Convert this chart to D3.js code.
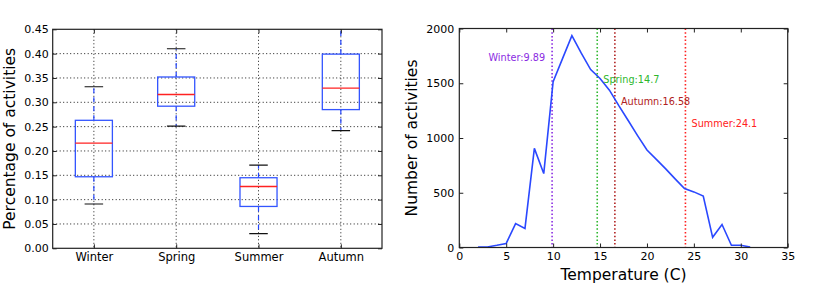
<!DOCTYPE html>
<html>
<head>
<meta charset="utf-8">
<script src="https://cdn.jsdelivr.net/npm/d3@7"></script>
<style>
  body { margin: 0; background: #fff; }
  svg { display: block; font-family: "DejaVu Sans", sans-serif; }
  .tick text { fill: #000; }
</style>
</head>
<body>
<svg width="831" height="284"></svg>
<script>
// box plot data
var seasons = ["Winter", "Spring", "Summer", "Autumn"];
var whiskLo = [0.091, 0.251, 0.030, 0.242];
var q1 = [0.147, 0.292, 0.086, 0.285];
var med = [0.216, 0.316, 0.127, 0.329];
var q3 = [0.263, 0.352, 0.145, 0.399];
var whiskHi = [0.332, 0.410, 0.171, 0.47];
var pctTicks = [0, 0.05, 0.10, 0.15, 0.20, 0.25, 0.30, 0.35, 0.40, 0.45];

// temperature curve
var temps = [2, 3, 4, 5, 6, 7, 8, 9, 10, 11, 12, 13, 14, 15, 16, 17, 18, 19, 20, 21, 22, 23, 24, 25, 26, 27, 28, 29, 30, 31];
var counts = [5, 5, 20, 37, 218, 174, 905, 675, 1514, 1725, 1935, 1775, 1625, 1543, 1437, 1295, 1160, 1022, 890, 805, 718, 627, 538, 508, 470, 93, 210, 20, 21, 5];
var tempTicks = [0, 5, 10, 15, 20, 25, 30, 35];
var countTicks = [0, 500, 1000, 1500, 2000];

// seasonal mean temperatures
var meanNames = ["Winter", "Spring", "Autumn", "Summer"];
var meanTemps = [9.89, 14.7, 16.58, 24.1];
var meanLabels = ["Winter:9.89", "Spring:14.7", "Autumn:16.58", "Summer:24.1"];
var meanTextY = [1700, 1500, 1300, 1100];
var meanColors = ["#8a2be2", "#2cb72c", "#b02020", "#ff2020"];

var FONT = "DejaVu Sans";
var svg = d3.select("svg");

function styleAxis(size) {
  return function(g) {
    g.attr("font-family", FONT);
    g.select(".domain").remove();
    g.selectAll("text").attr("font-size", size);
    g.selectAll("line").attr("stroke", "#222");
  };
}

// ---------- left: box plot ----------
var L = {x0: 52.7, x1: 382, y0: 29.3, y1: 248.3};

var xBox = d3.scaleLinear().domain([0.5, 4.5]).range([L.x0, L.x1]);
var yPct = d3.scaleLinear().domain([0, 0.45]).range([L.y1, L.y0]);

svg.append("clipPath").attr("id", "clipL")
  .append("rect").attr("x", L.x0).attr("y", L.y0)
  .attr("width", L.x1 - L.x0).attr("height", L.y1 - L.y0);

var gl = svg.append("g");

// grid
gl.selectAll(".hgrid").data(pctTicks.slice(1, -1)).enter().append("line")
  .attr("x1", L.x0).attr("x2", L.x1)
  .attr("y1", function(d) { return yPct(d); }).attr("y2", function(d) { return yPct(d); })
  .attr("stroke", "#000").attr("stroke-width", 0.9).attr("stroke-dasharray", "1,2.5");
gl.selectAll(".vgrid").data(seasons).enter().append("line")
  .attr("x1", function(d, i) { return xBox(i + 1); }).attr("x2", function(d, i) { return xBox(i + 1); })
  .attr("y1", L.y0).attr("y2", L.y1)
  .attr("stroke", "#000").attr("stroke-width", 0.9).attr("stroke-dasharray", "1,2.5");

var boxW = 0.45, capW = 0.225;
var boxes = gl.append("g").attr("clip-path", "url(#clipL)")
  .selectAll("g").data(seasons).enter().append("g");

// whiskers
boxes.append("line")
  .attr("x1", function(d, i) { return xBox(i + 1); }).attr("x2", function(d, i) { return xBox(i + 1); })
  .attr("y1", function(d, i) { return yPct(q3[i]); }).attr("y2", function(d, i) { return yPct(whiskHi[i]); })
  .attr("stroke", "#2244ff").attr("stroke-width", 1.2).attr("stroke-dasharray", "5,4");
boxes.append("line")
  .attr("x1", function(d, i) { return xBox(i + 1); }).attr("x2", function(d, i) { return xBox(i + 1); })
  .attr("y1", function(d, i) { return yPct(q1[i]); }).attr("y2", function(d, i) { return yPct(whiskLo[i]); })
  .attr("stroke", "#2244ff").attr("stroke-width", 1.2).attr("stroke-dasharray", "5,4");
// caps
[whiskLo, whiskHi].forEach(function(arr) {
  boxes.append("line")
    .attr("x1", function(d, i) { return xBox(i + 1 - capW / 2); })
    .attr("x2", function(d, i) { return xBox(i + 1 + capW / 2); })
    .attr("y1", function(d, i) { return yPct(arr[i]); }).attr("y2", function(d, i) { return yPct(arr[i]); })
    .attr("stroke", "#111").attr("stroke-width", 1.2);
});
// box
boxes.append("rect")
  .attr("x", function(d, i) { return xBox(i + 1 - boxW / 2); })
  .attr("width", xBox(1 + boxW) - xBox(1))
  .attr("y", function(d, i) { return yPct(q3[i]); })
  .attr("height", function(d, i) { return yPct(q1[i]) - yPct(q3[i]); })
  .attr("fill", "none").attr("stroke", "#3355ff").attr("stroke-width", 1.3);
// median
boxes.append("line")
  .attr("x1", function(d, i) { return xBox(i + 1 - boxW / 2); })
  .attr("x2", function(d, i) { return xBox(i + 1 + boxW / 2); })
  .attr("y1", function(d, i) { return yPct(med[i]); }).attr("y2", function(d, i) { return yPct(med[i]); })
  .attr("stroke", "#ff2222").attr("stroke-width", 1.3);

// axes
gl.append("g").attr("transform", "translate(" + L.x0 + ",0)")
  .call(d3.axisLeft(yPct).tickValues(pctTicks).tickFormat(d3.format(".2f")).tickSizeInner(-4).tickSizeOuter(0).tickPadding(4))
  .call(styleAxis(11));
gl.append("g").attr("transform", "translate(" + L.x1 + ",0)")
  .call(d3.axisRight(yPct).tickValues(pctTicks).tickFormat("").tickSizeInner(-4).tickSizeOuter(0))
  .call(styleAxis(11));
gl.append("g").attr("transform", "translate(0," + L.y1 + ")")
  .call(d3.axisBottom(xBox).tickValues([1, 2, 3, 4]).tickFormat(function(d) { return seasons[d - 1]; }).tickSizeInner(-4).tickSizeOuter(0).tickPadding(5))
  .call(styleAxis(11.5));
gl.append("g").attr("transform", "translate(0," + L.y0 + ")")
  .call(d3.axisTop(xBox).tickValues([1, 2, 3, 4]).tickFormat("").tickSizeInner(-4).tickSizeOuter(0))
  .call(styleAxis(11));

gl.append("rect").attr("x", L.x0).attr("y", L.y0)
  .attr("width", L.x1 - L.x0).attr("height", L.y1 - L.y0)
  .attr("fill", "none").attr("stroke", "#222").attr("stroke-width", 1.2);

gl.append("text")
  .attr("transform", "translate(15," + (L.y0 + L.y1) / 2 + ") rotate(-90)")
  .attr("text-anchor", "middle").attr("font-size", 15.5)
  .text("Percentage of activities");

// ---------- right: temperature curve ----------
var R = {x0: 459.3, x1: 787.7, y0: 28.5, y1: 247.5};

var xT = d3.scaleLinear().domain([0, 35]).range([R.x0, R.x1]);
var yC = d3.scaleLinear().domain([0, 2000]).range([R.y1, R.y0]);

var gr = svg.append("g");

gr.selectAll(".vline").data(meanTemps).enter().append("line")
  .attr("x1", function(d) { return xT(d); }).attr("x2", function(d) { return xT(d); })
  .attr("y1", R.y0).attr("y2", R.y1)
  .attr("stroke", function(d, i) { return meanColors[i]; })
  .attr("stroke-width", 1.6).attr("stroke-dasharray", "1.5,2.2");

var line = d3.line()
  .x(function(d, i) { return xT(temps[i]); })
  .y(function(d) { return yC(d); });
gr.append("path").datum(counts)
  .attr("d", line)
  .attr("fill", "none").attr("stroke", "#2a48ff").attr("stroke-width", 1.6);

gr.selectAll(".lbl").data(meanLabels).enter().append("text")
  .attr("x", function(d, i) { return i === 0 ? xT(meanTemps[i] - 0.75) : xT(meanTemps[i] + 0.65); })
  .attr("y", function(d, i) { return yC(meanTextY[i]); })
  .attr("text-anchor", function(d, i) { return i === 0 ? "end" : "start"; })
  .attr("fill", function(d, i) { return meanColors[i]; })
  .attr("font-size", 9.7)
  .text(function(d) { return d; });

gr.append("g").attr("transform", "translate(" + R.x0 + ",0)")
  .call(d3.axisLeft(yC).tickValues(countTicks).tickFormat(d3.format("d")).tickSizeInner(-4).tickSizeOuter(0).tickPadding(5))
  .call(styleAxis(11));
gr.append("g").attr("transform", "translate(" + R.x1 + ",0)")
  .call(d3.axisRight(yC).tickValues(countTicks).tickFormat("").tickSizeInner(-4).tickSizeOuter(0))
  .call(styleAxis(11));
gr.append("g").attr("transform", "translate(0," + R.y1 + ")")
  .call(d3.axisBottom(xT).tickValues(tempTicks).tickSizeInner(-4).tickSizeOuter(0).tickPadding(5))
  .call(styleAxis(11));
gr.append("g").attr("transform", "translate(0," + R.y0 + ")")
  .call(d3.axisTop(xT).tickValues(tempTicks).tickFormat("").tickSizeInner(-4).tickSizeOuter(0))
  .call(styleAxis(11));

gr.append("rect").attr("x", R.x0).attr("y", R.y0)
  .attr("width", R.x1 - R.x0).attr("height", R.y1 - R.y0)
  .attr("fill", "none").attr("stroke", "#222").attr("stroke-width", 1.2);

gr.append("text")
  .attr("transform", "translate(417," + (R.y0 + R.y1) / 2 + ") rotate(-90)")
  .attr("text-anchor", "middle").attr("font-size", 15.5)
  .text("Number of activities");
gr.append("text")
  .attr("x", (R.x0 + R.x1) / 2).attr("y", 280)
  .attr("text-anchor", "middle").attr("font-size", 15.5)
  .text("Temperature (C)");
</script>
</body>
</html>
